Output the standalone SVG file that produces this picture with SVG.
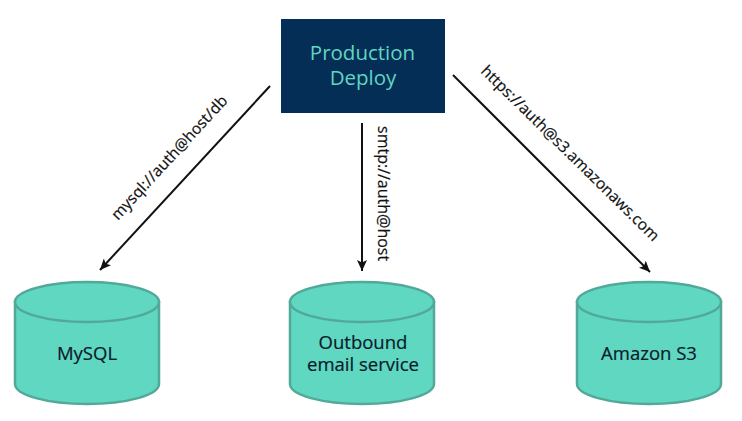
<svg xmlns="http://www.w3.org/2000/svg" width="742" height="421" viewBox="0 0 742 421">
<style>
text{font-family:"Open Sans","Noto Sans",sans-serif}
.cyl{fill:#5fd7c1;stroke:#52a999;stroke-width:2.5}
.n{font-size:18.5px;fill:#0b1a2b;text-anchor:middle;stroke:#0b1a2b;stroke-width:.2}
.l{font-size:15.6px;fill:#111;stroke:#111;stroke-width:.2}
.c{fill:none;stroke:#111;stroke-width:2}
</style>
<defs>
<marker id="a" markerUnits="userSpaceOnUse" markerWidth="12" markerHeight="10" refX="11" refY="5" orient="auto"><path d="M0 0L11 5L0 10L2.5 5Z" fill="#111"/></marker>
<g id="cy">
<path class="cyl" d="M0 20V102C0 113 32 122 72 122S144 113 144 102V20Z"/>
<ellipse class="cyl" cx="72" cy="20" rx="72" ry="20"/>
</g>
</defs>
<rect width="742" height="421" fill="#fff"/>
<g id="connectors">
<path class="c" d="M270 86L100 270" marker-end="url(#a)"/>
<path class="c" d="M362 123V271" marker-end="url(#a)"/>
<path class="c" d="M453 75L650 272" marker-end="url(#a)"/>
<text class="l" transform="translate(118 221) rotate(-47.3)">mysql://auth@host/db</text>
<text class="l" font-size="16" style="font-size:16px" transform="translate(378 126) rotate(90)">smtp://auth@host</text>
<text class="l" transform="translate(480 72) rotate(44.5)">https://auth@s3.amazonaws.com</text>
</g>
<g id="production-deploy">
<rect x="281" y="19" width="164" height="94" fill="#052e56"/>
<text x="362.500" y="60" font-size="20.500" fill="#5fd7c1" text-anchor="middle">Production</text>
<text x="363" y="85" font-size="20.500" fill="#5fd7c1" text-anchor="middle">Deploy</text>
</g>
<g id="mysql"><use href="#cy" x="15" y="282"/><text class="n" x="87" y="360">MySQL</text></g>
<g id="email"><use href="#cy" x="290" y="282"/><text class="n" x="363" y="349">Outbound</text><text class="n" x="363" y="371">email service</text></g>
<g id="s3"><use href="#cy" x="577" y="282"/><text class="n" x="649" y="360">Amazon S3</text></g>
</svg>
